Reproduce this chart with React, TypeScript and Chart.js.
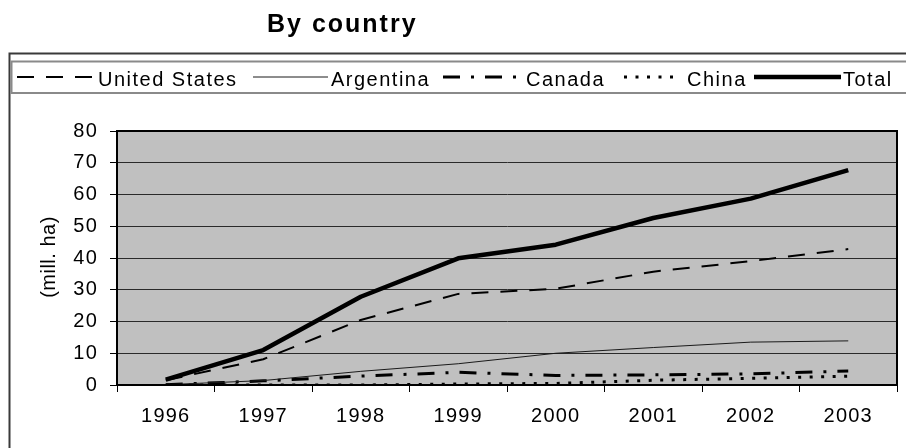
import React, { useEffect, useRef } from "react";
import { Chart, registerables } from "chart.js";

Chart.register(...registerables);

// ---- data ----
const years = ["1996", "1997", "1998", "1999", "2000", "2001", "2002", "2003"];
const unitedStates = [1.5, 8.1, 20.5, 28.7, 30.3, 35.7, 39.0, 42.8];
const argentina = [0.1, 1.4, 4.3, 6.7, 10.0, 11.8, 13.5, 13.9];
const canada = [0.1, 1.3, 2.8, 4.0, 3.0, 3.2, 3.5, 4.4];
const china = [0.0, 0.0, 0.0, 0.3, 0.5, 1.5, 2.1, 2.8];
const total = [1.7, 11.0, 27.8, 39.9, 44.2, 52.6, 58.7, 67.7];
const seriesNames = ["United States", "Argentina", "Canada", "China", "Total"];
const titleText = "By country";
const yAxisTitle = "(mill. ha)";
const yTicks = [0, 10, 20, 30, 40, 50, 60, 70, 80];

const FONT = '"Liberation Sans", Arial, sans-serif';

// legend sample layout (line start, line length, text start)
const legendLayout = [
  { x: 17, len: 76, tx: 98 },
  { x: 253, len: 75, tx: 331 },
  { x: 443, len: 73, tx: 526 },
  { x: 624, len: 50, tx: 687 },
  { x: 754, len: 87, tx: 843 },
];

export default function App() {
  const ref = useRef<HTMLCanvasElement>(null);

  useEffect(() => {
    document.body.style.margin = "0";
    const canvas = ref.current;
    if (!canvas) return;

    const framePlugin = {
      id: "frameDecor",
      beforeDraw(chart: any) {
        const { ctx, chartArea: a } = chart;
        ctx.save();
        ctx.fillStyle = "#ffffff";
        ctx.fillRect(0, 0, chart.width, chart.height);
        ctx.fillStyle = "#c0c0c0";
        ctx.fillRect(a.left, a.top, a.right - a.left, a.bottom - a.top);
        ctx.restore();
        (ctx as any).letterSpacing = "1.2px";
      },
      afterDraw(chart: any) {
        const { ctx, chartArea: a } = chart;
        ctx.save();
        (ctx as any).letterSpacing = "0px";
        // plot area border
        ctx.setLineDash([]);
        ctx.strokeStyle = "#000";
        ctx.lineWidth = 2;
        ctx.strokeRect(a.left, a.top, a.right - a.left, a.bottom - a.top);

        // outer chart frame
        ctx.strokeStyle = "#3a3a3a";
        ctx.lineWidth = 2;
        ctx.strokeRect(9.5, 53.5, 1000, 500);

        // legend frame
        ctx.strokeStyle = "#8a8a8a";
        ctx.lineWidth = 2;
        ctx.strokeRect(11.5, 61.5, 1000, 31.5);

        // legend entries
        chart.data.datasets.forEach((ds: any, i: number) => {
          const L = legendLayout[i];
          ctx.save();
          ctx.strokeStyle = ds.borderColor;
          ctx.lineWidth = ds.borderWidth;
          ctx.setLineDash(ds.borderDash || []);
          ctx.lineCap = "butt";
          ctx.beginPath();
          ctx.moveTo(L.x, 77);
          ctx.lineTo(L.x + L.len, 77);
          ctx.stroke();
          ctx.restore();
          ctx.fillStyle = "#000";
          ctx.font = `20px ${FONT}`;
          (ctx as any).letterSpacing = "1.5px";
          ctx.textAlign = "left";
          ctx.textBaseline = "alphabetic";
          ctx.fillText(ds.label, L.tx, 85.5);
        });

        // title
        ctx.font = `bold 25px ${FONT}`;
        (ctx as any).letterSpacing = "2px";
        ctx.fillStyle = "#000";
        ctx.textAlign = "left";
        ctx.textBaseline = "alphabetic";
        ctx.fillText(titleText, 267, 32);

        // y axis title
        ctx.save();
        ctx.translate(49, 257);
        ctx.rotate(-Math.PI / 2);
        ctx.font = `20px ${FONT}`;
        (ctx as any).letterSpacing = "0.5px";
        ctx.textAlign = "center";
        ctx.textBaseline = "middle";
        ctx.fillText(yAxisTitle, 0, 0);
        ctx.restore();

        ctx.restore();
      },
    };

    const chart = new Chart(canvas, {
      type: "line",
      data: {
        labels: years,
        datasets: [
          {
            label: seriesNames[0],
            data: unitedStates,
            borderColor: "#000",
            borderWidth: 2,
            borderDash: [17, 12],
          },
          {
            label: seriesNames[1],
            data: argentina,
            borderColor: "#1a1a1a",
            borderWidth: 1,
          },
          {
            label: seriesNames[2],
            data: canada,
            borderColor: "#000",
            borderWidth: 3,
            borderDash: [17, 11, 3, 11],
          },
          {
            label: seriesNames[3],
            data: china,
            borderColor: "#000",
            borderWidth: 3,
            borderDash: [3, 8.5],
          },
          {
            label: seriesNames[4],
            data: total,
            borderColor: "#000",
            borderWidth: 4.5,
          },
        ].map((d) => ({
          ...d,
          pointRadius: 0,
          pointHoverRadius: 0,
          tension: 0,
          fill: false,
          borderCapStyle: "butt" as const,
          borderJoinStyle: "round" as const,
        })),
      },
      options: {
        animation: false,
        responsive: false,
        maintainAspectRatio: false,
        devicePixelRatio: window.devicePixelRatio || 1,
        layout: { padding: { top: 131, right: 9, left: 0, bottom: 0 } },
        plugins: {
          legend: { display: false },
          title: { display: false },
          tooltip: { enabled: false },
        },
        scales: {
          x: {
            type: "category",
            offset: true,
            grid: {
              offset: true,
              drawOnChartArea: false,
              drawTicks: true,
              tickLength: 7,
              tickColor: "#000",
              tickWidth: 1,
            },
            border: { display: true, color: "#000", width: 2 },
            ticks: {
              color: "#000",
              font: { family: FONT, size: 20 },
              padding: 12,
              maxRotation: 0,
              autoSkip: false,
            },
            afterFit: (scale: any) => {
              scale.height = 63;
            },
          },
          y: {
            min: 0,
            max: 80,
            afterBuildTicks: (scale: any) => {
              scale.ticks = yTicks.map((v) => ({ value: v }));
            },
            grid: {
              color: "#2a2a2a",
              lineWidth: 1,
              drawTicks: true,
              tickLength: 7,
              tickColor: "#000",
            },
            border: { display: true, color: "#000", width: 2 },
            ticks: {
              color: "#000",
              font: { family: FONT, size: 20 },
              padding: 12,
            },
            afterFit: (scale: any) => {
              scale.width = 117;
            },
          },
        },
      } as any,
      plugins: [framePlugin],
    });

    return () => chart.destroy();
  }, []);

  return (
    <div style={{ position: "fixed", left: 0, top: 0, width: 906, height: 448, background: "#fff" }}>
      <canvas ref={ref} width={906} height={448} style={{ width: 906, height: 448, display: "block" }} />
    </div>
  );
}
